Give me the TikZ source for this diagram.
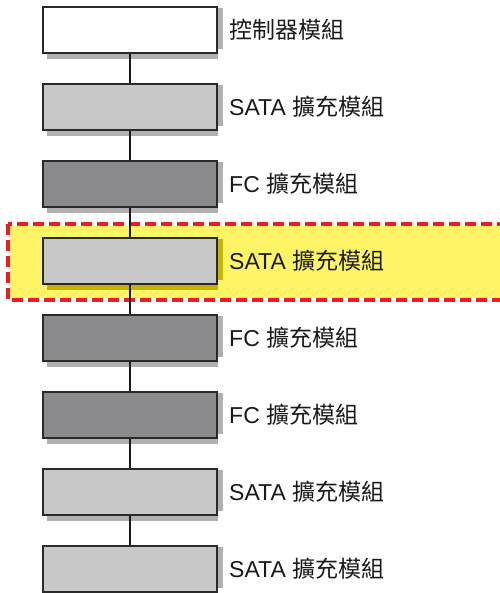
\documentclass[tikz,border=0pt]{standalone}
\usepackage{fontspec}
\setmainfont{Liberation Sans}
\newfontfamily\cjk{Noto Sans CJK TC}
\definecolor{lgray}{HTML}{C8C8C9}
\definecolor{dgray}{HTML}{8B8B8D}
\definecolor{hyel}{HTML}{FFF466}
\definecolor{hred}{HTML}{EE1C25}
\definecolor{edge}{HTML}{2A2A2A}
\definecolor{shadowc}{HTML}{B0B0B0}
\definecolor{shadowy}{HTML}{C4B400}
\tikzset{
  modbox/.style={draw=edge, line width=1.3pt, minimum width=174pt, minimum height=46pt, inner sep=0pt},
  lab/.style={anchor=west, inner sep=0pt, font=\fontsize{23}{27}\selectfont, text=black!90},
  conn/.style={draw=black!90, line width=2.4pt}
}
\begin{document}
\begin{tikzpicture}[x=1pt,y=1pt]
\useasboundingbox (0,0) rectangle (499,593);
% highlight band
\fill[hyel] (8,593-224) rectangle (510,593-300);
\draw[white, line width=3.5pt] (8,593-224) rectangle (510,593-300);
\draw[hred, line width=3.5pt, dash pattern=on 11pt off 5pt] (8,593-224) rectangle (510,593-300);
% boxes
\foreach \i/\c in {1/white,2/lgray,3/dgray,4/lgray,5/dgray,6/dgray,7/lgray,8/lgray}{
  \node[modbox, fill=\c] (b\i) at (130, {593-30-77*(\i-1)}) {};
}
% shadows (right and bottom strips)
\foreach \i in {1,2,3,5,6,7,8}{
  \fill[shadowc] ([xshift=0.7pt]b\i.south east) ++(0,4.5) rectangle ++(4.5,41.5);
  \fill[shadowc] ([yshift=-0.7pt]b\i.south west) ++(4.5,0) rectangle ++(170.7,-4.5);
}
\fill[shadowy] ([xshift=0.7pt]b4.south east) ++(0,4.5) rectangle ++(4.5,41.5);
\fill[shadowy] ([yshift=-0.7pt]b4.south west) ++(4.5,0) rectangle ++(170.7,-4.5);
% connectors
\foreach \i [evaluate=\i as \j using int(\i+1)] in {1,...,7}{
  \draw[conn] (b\i.south) -- (b\j.north);
}
% labels
\node[lab] (l1) at (229, 593-30) {\cjk 控制器模組};
\node[lab] (l2) at (229, 593-107) {SATA {\cjk 擴充模組}};
\node[lab] (l3) at (229, 593-184) {FC {\cjk 擴充模組}};
\node[lab] (l4) at (229, 593-261) {SATA {\cjk 擴充模組}};
\node[lab] (l5) at (229, 593-338) {FC {\cjk 擴充模組}};
\node[lab] (l6) at (229, 593-415) {FC {\cjk 擴充模組}};
\node[lab] (l7) at (229, 593-492) {SATA {\cjk 擴充模組}};
\node[lab] (l8) at (229, 593-569) {SATA {\cjk 擴充模組}};
\end{tikzpicture}
\end{document}
